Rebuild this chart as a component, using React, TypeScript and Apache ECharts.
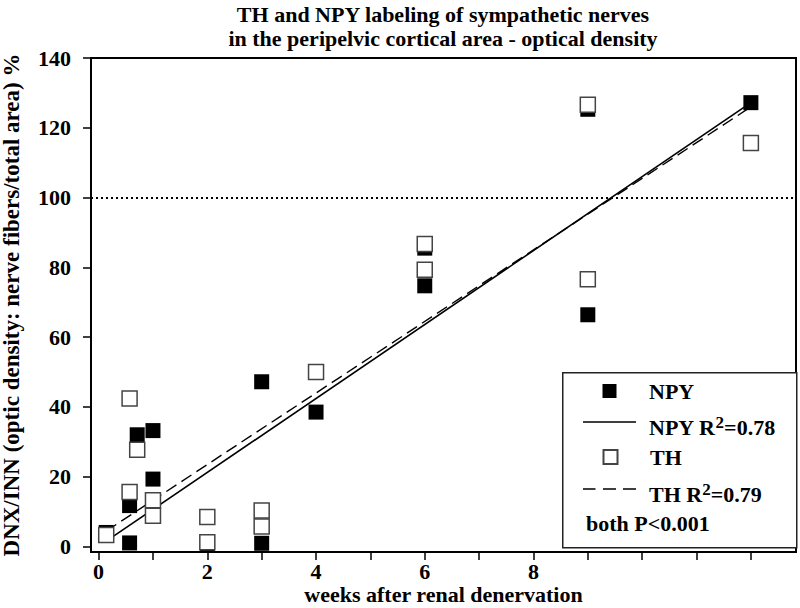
import React, { useEffect, useRef } from 'react';
import * as echarts from 'echarts';

const FONT = 'Liberation Serif, Times New Roman, serif';

const titleLines = ['TH and NPY labeling of sympathetic nerves', 'in the peripelvic cortical area - optical density'];
const xAxisTitle = 'weeks after renal denervation';
const yAxisTitle = 'DNX/INN (optic density: nerve fibers/total area) %';
const xTickValues = [0, 1, 2, 3, 4, 5, 6, 7, 8, 9, 10, 11, 12];
const xLabelValues = [0, 2, 4, 6, 8];
const yTickValues = [0, 20, 40, 60, 80, 100, 120, 140];
const referenceLevel = 100;

const npyName = 'NPY';
const npyFitName = 'NPY R2=0.78';
const thName = 'TH';
const thFitName = 'TH R2=0.79';
const pNote = 'both P<0.001';

// [weeks, % value]
const npyPoints = [
  [0.14, 4.0], [0.57, 11.7], [0.57, 1.0], [0.71, 32.0], [1, 33.2], [1, 19.3],
  [2, 0.5], [3, 47.2], [3, 0.9], [4, 38.5], [6, 85.5], [6, 74.7],
  [9, 125.3], [9, 66.4], [12, 127.2],
];
const thPoints = [
  [0.14, 3.3], [0.57, 42.4], [0.57, 15.6], [0.71, 27.7], [1, 13.2], [1, 8.8],
  [2, 8.4], [2, 1.2], [3, 10.3], [3, 5.7], [4, 50.0], [6, 86.7], [6, 79.3],
  [9, 126.6], [9, 76.6], [12, 115.6],
];
const npyFit = [[0.14, 1.5], [12, 127.2]];
const thFit = [[0.14, 4.4], [12, 126.0]];

// legend icon shapes (bounding box pinned to 53 x 14)
const ICON_SQUARE = 'path://M0,0L0,0Z M19.5,0H33.5V14H19.5Z M53,14L53,14Z';
const ICON_SOLID = 'path://M0,0L0,0Z M0,6.2H53V7.8H0Z M53,14L53,14Z';
const ICON_DASHED = 'path://M0,0L0,0Z M0,6.3H12.5V7.7H0Z M20,6.3H33V7.7H20Z M40,6.3H53V7.7H40Z M53,14L53,14Z';

const legendText = {
  fontFamily: FONT,
  fontSize: 22,
  fontWeight: 'bold',
  color: '#000',
  lineHeight: 22,
  padding: [0, 0, 0, 8],
  rich: {
    m: { fontFamily: FONT, fontSize: 22, fontWeight: 'bold', color: '#000', lineHeight: 22, verticalAlign: 'bottom' },
    s: { fontFamily: FONT, fontSize: 17, fontWeight: 'bold', color: '#000', lineHeight: 32, verticalAlign: 'middle' },
  },
};

const fmtLegend = (name: string) => {
  const m = name.match(/^(.*R)2(=.*)$/);
  if (m) return `{m|${m[1]}}{s|2}{m|${m[2]}}`;
  return name;
};

const mkLegend = (name: string, icon: string, top: number) => ({
  data: [{ name, icon }],
  left: 583,
  top,
  orient: 'vertical',
  padding: 0,
  itemWidth: 53,
  itemHeight: 14,
  selectedMode: false,
  textStyle: legendText,
  formatter: fmtLegend,
});

export default function App() {
  const ref = useRef<HTMLDivElement>(null);
  useEffect(() => {
    if (!ref.current) return;
    const chart = echarts.init(ref.current, null, { renderer: 'svg' });
    const axisText = { fontFamily: FONT, fontSize: 22, fontWeight: 'bold', color: '#000' };
    chart.setOption({
      animation: false,
      backgroundColor: '#fff',
      title: {
        text: titleLines.join('\n'),
        left: 443,
        top: 2,
        padding: 0,
        textAlign: 'center',
        textStyle: { ...axisText, fontSize: 22, lineHeight: 24 },
      },
      grid: {
        left: 91, right: 4, top: 58, bottom: 56,
        containLabel: false,
        outerBoundsMode: 'none',
        show: true, borderColor: '#000', borderWidth: 2, backgroundColor: 'transparent',
      },
      xAxis: {
        type: 'value',
        min: -0.14,
        max: 12.83,
        name: xAxisTitle,
        nameLocation: 'middle',
        nameGap: 31,
        nameMoveOverlap: false,
        nameTextStyle: { ...axisText, lineHeight: 22 },
        axisLine: { show: true, onZero: false, lineStyle: { color: '#000', width: 2 } },
        axisTick: { show: true, customValues: xTickValues, length: 8, lineStyle: { color: '#000', width: 1.5 } },
        axisLabel: { show: true, customValues: xLabelValues, margin: 8, ...axisText },
        splitLine: { show: false },
      },
      yAxis: {
        type: 'value',
        min: -1.6,
        max: 140,
        name: yAxisTitle,
        nameLocation: 'middle',
        nameRotate: 90,
        nameGap: 69,
        nameMoveOverlap: false,
        nameTextStyle: { ...axisText, fontSize: 23, lineHeight: 22 },
        axisLine: { show: true, onZero: false, lineStyle: { color: '#000', width: 2 } },
        axisTick: { show: true, customValues: yTickValues, length: 8, lineStyle: { color: '#000', width: 1.5 } },
        axisLabel: { show: true, customValues: yTickValues, margin: 20, ...axisText },
        splitLine: { show: false },
      },
      legend: [
        mkLegend(npyName, ICON_SQUARE, 380),
        mkLegend(npyFitName, ICON_SOLID, 406),
        mkLegend(thName, ICON_SQUARE, 446),
        mkLegend(thFitName, ICON_DASHED, 473),
      ],
      graphic: [
        {
          type: 'rect',
          left: 562,
          top: 372,
          z: 0,
          shape: { width: 234, height: 175 },
          style: { fill: '#fff', stroke: '#222', lineWidth: 1.5 },
        },
        {
          type: 'text',
          left: 586,
          top: 512,
          z: 10,
          style: { text: pNote, fontFamily: FONT, fontSize: 22, fontWeight: 'bold', fill: '#000' },
        },
      ],
      series: [
        {
          name: npyFitName,
          type: 'line',
          data: npyFit,
          symbol: 'none',
          z: 2,
          lineStyle: { color: '#000', width: 1.6, type: 'solid' },
          itemStyle: { color: '#000' },
          markLine: {
            silent: true,
            symbol: ['none', 'none'],
            label: { show: false },
            lineStyle: { color: '#000', width: 2, type: [2, 3] },
            data: [{ yAxis: referenceLevel }],
          },
        },
        {
          name: thFitName,
          type: 'line',
          data: thFit,
          symbol: 'none',
          z: 2,
          lineStyle: { color: '#000', width: 1.4, type: [12, 6] },
          itemStyle: { color: '#000' },
        },
        {
          name: npyName,
          type: 'scatter',
          data: npyPoints,
          symbol: 'rect',
          symbolSize: 15,
          z: 3,
          itemStyle: { color: '#000', borderColor: '#000', borderWidth: 0, opacity: 1 },
        },
        {
          name: thName,
          type: 'scatter',
          data: thPoints,
          symbol: 'rect',
          symbolSize: 15,
          z: 4,
          itemStyle: { color: '#fff', borderColor: '#444', borderWidth: 1.5, opacity: 1 },
        },
      ],
    });
    return () => chart.dispose();
  }, []);
  return <div ref={ref} style={{ position: 'fixed', left: 0, top: 0, width: 800, height: 608 }} />;
}
